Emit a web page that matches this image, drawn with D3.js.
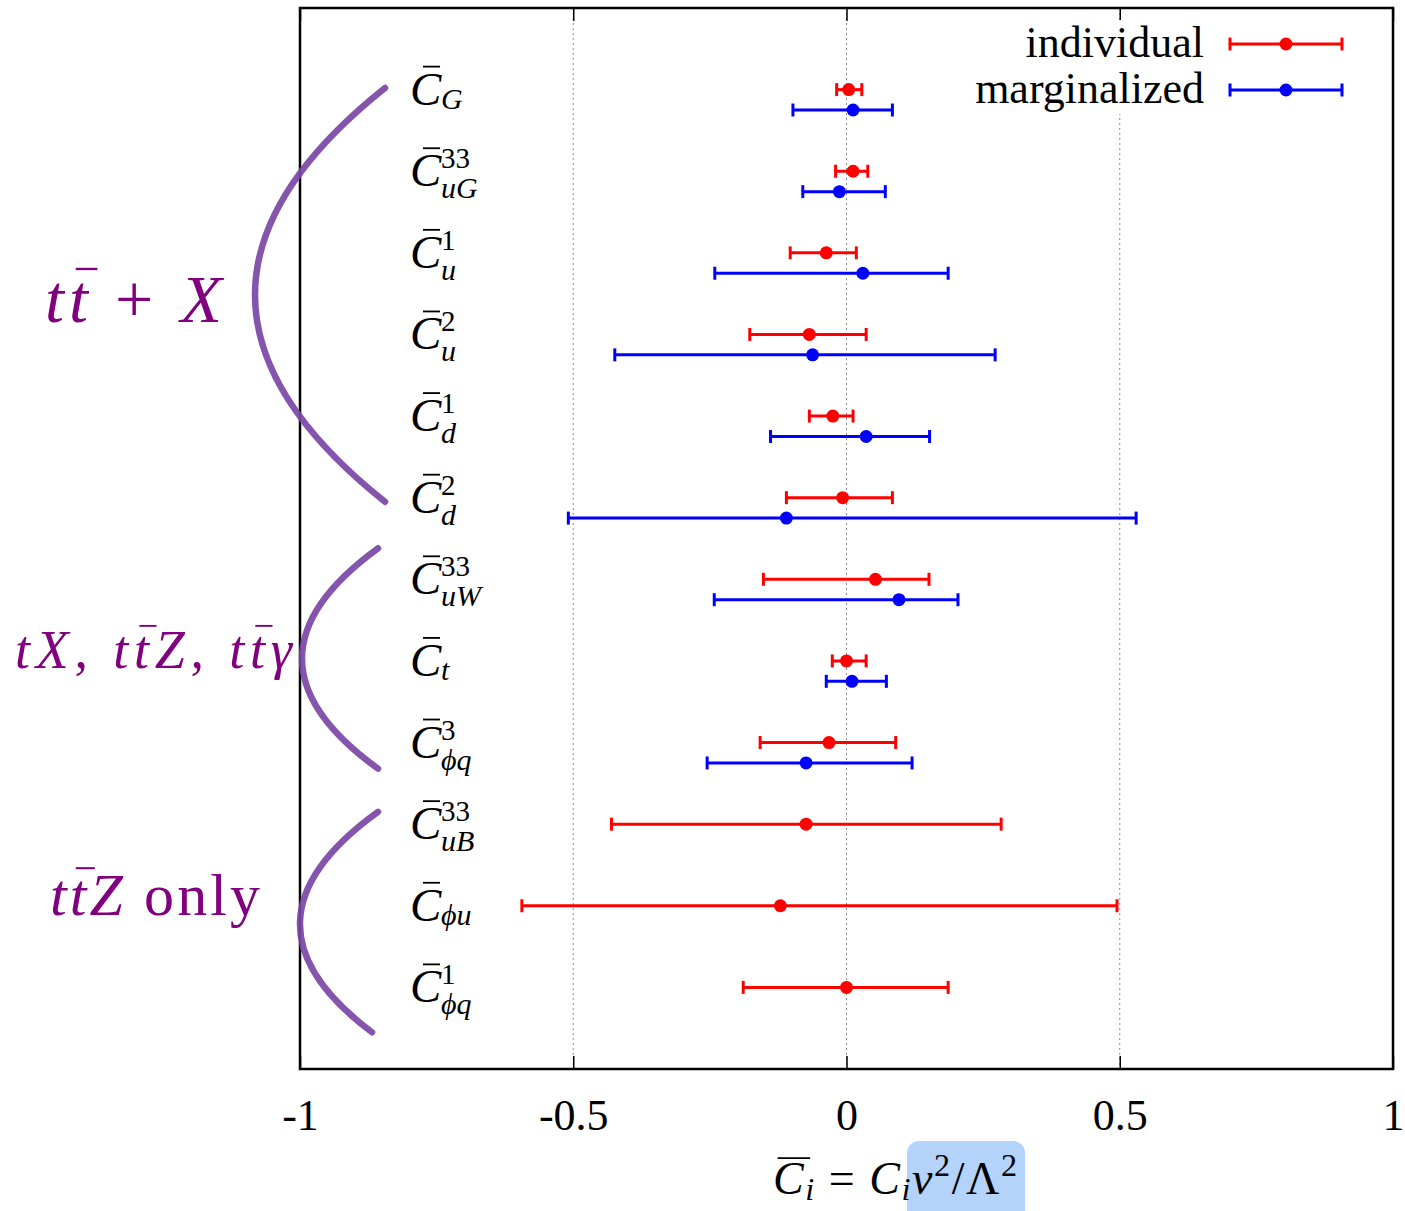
<!DOCTYPE html>
<html>
<head>
<meta charset="utf-8">
<script src="https://cdn.jsdelivr.net/npm/d3@7"></script>
<style>
  body { margin: 0; background: #fff; }
  svg { display: block; }
</style>
</head>
<body>
<div id="chart"></div>
<script>
// coefficient labels (superscript / subscript of C-bar)
const labelSup = ['', '33', '1', '2', '1', '2', '33', '', '3', '33', '', '1'];
const labelSub = ['G', 'uG', 'u', 'u', 'd', 'd', 'uW', 't', 'ϕq', 'uB', 'ϕu', 'ϕq'];

// individual fits (all 12 coefficients)
const indCenter = [0.004, 0.012, -0.037, -0.068, -0.025, -0.007, 0.053, 0.000, -0.032, -0.074, -0.121, 0.000];
const indLow    = [-0.018, -0.020, -0.103, -0.177, -0.068, -0.110, -0.152, -0.026, -0.158, -0.430, -0.594, -0.189];
const indHigh   = [0.028, 0.039, 0.018, 0.036, 0.012, 0.084, 0.151, 0.036, 0.090, 0.283, 0.495, 0.186];

// marginalized fits (first 9 coefficients only)
const margCenter = [0.012, -0.013, 0.030, -0.062, 0.036, -0.110, 0.096, 0.010, -0.074];
const margLow    = [-0.098, -0.080, -0.241, -0.424, -0.139, -0.509, -0.242, -0.037, -0.255];
const margHigh   = [0.084, 0.071, 0.186, 0.272, 0.152, 0.530, 0.204, 0.073, 0.120];

const xTicks = [-1, -0.5, 0, 0.5, 1];
const xTickLabels = ['-1', '-0.5', '0', '0.5', '1'];

const seriesNames = ['individual', 'marginalized'];

// process groups (brace spans in y units)
const groupTop    = [12.02, 6.38, 3.15];
const groupBottom = [6.95, 3.68, 0.45];

const SERIF = '"Liberation Serif", "DejaVu Serif", serif';
const RED = '#ff0000', BLUE = '#0000ff';
const PURPLE = '#800080', BRACE = '#7b46a6';

const W = 1405, H = 1211;
const svg = d3.select('#chart').append('svg').attr('width', W).attr('height', H);

const x = d3.scaleLinear().domain([-1, 1]).range([300, 1393]);
const y = d3.scaleLinear().domain([0, 13]).range([1069, 8]);

// math-ish text: parts = [text, flags] with i=italic, b=bar, _=sub, ^=sup
function mathText(parent, x0, y0, size, parts, color, width) {
    const t = parent.append('text').attr('x', x0).attr('y', y0)
        .attr('font-family', SERIF).attr('font-size', size).attr('fill', color);
    let shift = 0, idx = 0;
    const bars = [];
    parts.forEach(([s, f]) => {
        const sub = f.includes('_'), sup = f.includes('^');
        const target = sub ? size * 0.14 : sup ? -size * 0.4 : 0;
        t.append('tspan').text(s)
            .attr('font-style', f.includes('i') ? 'italic' : 'normal')
            .attr('font-size', (sub || sup) ? size * 0.7 : size)
            .attr('dy', target - shift);
        shift = target;
        if (f.includes('b')) bars.push(idx);
        idx += s.length;
    });
    if (width) t.attr('textLength', width).attr('lengthAdjust', 'spacing');
    const node = t.node();
    bars.forEach(k => {
        const e = node.getExtentOfChar(k);
        parent.append('line')
            .attr('x1', e.x + size * 0.1).attr('x2', e.x + e.width + size * 0.14)
            .attr('y1', y0 - size * 0.78).attr('y2', y0 - size * 0.78)
            .attr('stroke', color).attr('stroke-width', size * 0.035);
    });
    return t;
}

// grid lines (dotted)
svg.append('g').selectAll('line').data(xTicks.slice(1, -1)).join('line')
    .attr('x1', d => x(d)).attr('x2', d => x(d))
    .attr('y1', y(13)).attr('y2', y(0))
    .attr('stroke', '#8c8c8c').attr('stroke-width', 1).attr('stroke-dasharray', '2 3');

// ticks on bottom and top, pointing inward
svg.append('g').attr('transform', `translate(0,${y(0)})`)
    .call(d3.axisBottom(x).tickValues(xTicks).tickSizeInner(-13).tickSizeOuter(0).tickPadding(30)
        .tickFormat((d, i) => xTickLabels[i]))
    .call(g => g.select('.domain').remove())
    .call(g => g.selectAll('line').attr('stroke', '#000').attr('stroke-width', 1.5))
    .call(g => g.selectAll('text').attr('font-family', SERIF).attr('font-size', 44).attr('fill', '#000'));
svg.append('g').attr('transform', `translate(0,${y(13)})`)
    .call(d3.axisTop(x).tickValues(xTicks).tickSizeInner(-13).tickSizeOuter(0).tickFormat(''))
    .call(g => g.select('.domain').remove())
    .call(g => g.selectAll('line').attr('stroke', '#000').attr('stroke-width', 1.5));

// error bars
function drawSeries(centers, lows, highs, offset, color) {
    const g = svg.append('g');
    const rows = centers.map((c, i) => ({ c, lo: lows[i], hi: highs[i], yy: y(12 - i - offset) }));
    g.selectAll('line.bar').data(rows).join('line').attr('class', 'bar')
        .attr('x1', d => x(d.lo)).attr('x2', d => x(d.hi))
        .attr('y1', d => d.yy).attr('y2', d => d.yy)
        .attr('stroke', color).attr('stroke-width', 3);
    ['lo', 'hi'].forEach(k => {
        g.selectAll('line.cap-' + k).data(rows).join('line').attr('class', 'cap-' + k)
            .attr('x1', d => x(d[k])).attr('x2', d => x(d[k]))
            .attr('y1', d => d.yy - 6.5).attr('y2', d => d.yy + 6.5)
            .attr('stroke', color).attr('stroke-width', 3);
    });
    g.selectAll('circle').data(rows).join('circle')
        .attr('cx', d => x(d.c)).attr('cy', d => d.yy).attr('r', 6.5).attr('fill', color);
}
drawSeries(indCenter, indLow, indHigh, 0, RED);
drawSeries(margCenter, margLow, margHigh, 0.25, BLUE);

// coefficient labels inside the frame: one text per label, sup and sub stacked
labelSub.forEach((sub, i) => {
    const yy = y(12 - i);
    const t = svg.append('text').attr('font-family', SERIF).attr('fill', '#000');
    t.append('tspan').attr('x', 410).attr('y', yy + 15)
        .attr('font-style', 'italic').attr('font-size', 47).text('C');
    if (labelSup[i]) {
        t.append('tspan').attr('x', 441).attr('y', yy - 3)
            .attr('font-size', 29).text(labelSup[i]);
    }
    t.append('tspan').attr('x', 441).attr('y', yy + (labelSup[i] ? 27 : 19))
        .attr('font-style', 'italic').attr('font-size', 30).text(sub);
    svg.append('line').attr('x1', 423).attr('x2', 440).attr('y1', yy - 23).attr('y2', yy - 23)
        .attr('stroke', '#000').attr('stroke-width', 1.8);
});

// legend
const leg = svg.append('g');
leg.append('rect').attr('x', 965).attr('y', 20).attr('width', 395).attr('height', 94).attr('fill', '#fff');
seriesNames.forEach((name, i) => {
    const ly = 44 + i * 46;
    const color = i === 0 ? RED : BLUE;
    leg.append('text').attr('x', 1204).attr('y', ly + 13).attr('text-anchor', 'end')
        .attr('font-family', SERIF).attr('font-size', 44).text(name);
    leg.append('line').attr('x1', 1230).attr('x2', 1342).attr('y1', ly).attr('y2', ly)
        .attr('stroke', color).attr('stroke-width', 3);
    [1230, 1342].forEach(cx => leg.append('line').attr('x1', cx).attr('x2', cx)
        .attr('y1', ly - 6.5).attr('y2', ly + 6.5).attr('stroke', color).attr('stroke-width', 3));
    leg.append('circle').attr('cx', 1286).attr('cy', ly).attr('r', 6.5).attr('fill', color);
});

// frame
svg.append('rect').attr('x', x(-1)).attr('y', y(13))
    .attr('width', x(1) - x(-1)).attr('height', y(0) - y(13))
    .attr('fill', 'none').attr('stroke', '#000').attr('stroke-width', 2.5);

// x axis title with the selection highlight behind part of it
svg.append('rect').attr('x', 907).attr('y', 1141).attr('width', 118).attr('height', 84)
    .attr('rx', 12).attr('fill', '#b3d3fb');
mathText(svg, 773, 1194, 46, [
    ['C', 'ib'], ['i', 'i_'], [' = ', ''], ['C', 'i'], ['i', 'i_'], ['v', 'i'], ['2', '^'],
    ['/', ''], ['Λ', ''], ['2', '^']
], '#000', 244);

// group labels and braces
mathText(svg, 45, 322, 68, [['t', 'i'], ['t', 'ib'], [' + ', ''], ['X', 'i']], PURPLE, 177);
mathText(svg, 15, 668, 54, [['t', 'i'], ['X', 'i'], [', ', ''], ['t', 'i'], ['t', 'ib'], ['Z', 'i'],
    [', ', ''], ['t', 'i'], ['t', 'ib'], ['γ', 'i']], PURPLE, 277);
mathText(svg, 50, 915, 60, [['t', 'i'], ['t', 'ib'], ['Z', 'i'], [' only', '']], PURPLE, 210);

const braceX = [[385, 385, 255], [378, 378, 302], [378, 372, 300]];
groupTop.forEach((t, i) => {
    const [xt, xb, xl] = braceX[i];
    const y0 = y(t), y1 = y(groupBottom[i]);
    const cx = 2 * xl - (xt + xb) / 2, cy = (y0 + y1) / 2;
    svg.append('path')
        .attr('d', `M${xt},${y0} Q${cx},${cy} ${xb},${y1}`)
        .attr('fill', 'none').attr('stroke', BRACE).attr('stroke-width', 6.5)
        .attr('stroke-linecap', 'round').attr('opacity', 0.92);
});
</script>
</body>
</html>
